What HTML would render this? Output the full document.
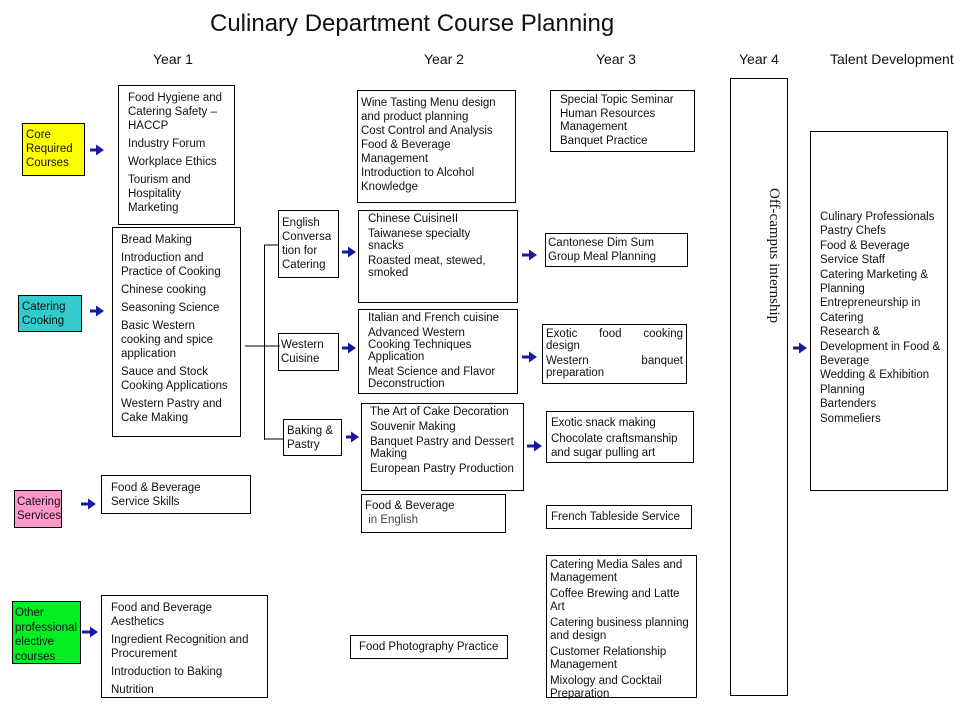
<!DOCTYPE html>
<html><head><meta charset="utf-8">
<style>
*{margin:0;padding:0;box-sizing:border-box}
body{width:960px;height:720px;background:#fff;position:relative;overflow:hidden;font-family:"Liberation Sans",Arial,sans-serif;color:#111;font-size:11.5px}
.b{position:absolute;border:1px solid #000;background:#fff;line-height:14px;white-space:nowrap}
.b p{margin-bottom:4px}
.t{position:absolute;white-space:nowrap}
.h{position:absolute;font-size:14px;white-space:nowrap}
svg{position:absolute;left:0;top:0}
</style></head><body>
<div class="t" style="left:210px;top:10px;font-size:24px">Culinary Department Course Planning</div>
<div class="h" style="left:153px;top:51px">Year 1</div>
<div class="h" style="left:424px;top:51px">Year 2</div>
<div class="h" style="left:596px;top:51px">Year 3</div>
<div class="h" style="left:739px;top:51px">Year 4</div>
<div class="h" style="left:830px;top:51px">Talent Development</div>

<div class="b" style="left:22px;top:123px;width:63px;height:53px;background:#ffff00;padding:4px 3px">Core<br>Required<br>Courses</div>
<div class="b" style="left:118px;top:85px;width:117px;height:140px;padding:5px 9px"><p>Food Hygiene and<br>Catering Safety –<br>HACCP</p><p>Industry Forum</p><p>Workplace Ethics</p><p>Tourism and<br>Hospitality<br>Marketing</p></div>

<div class="b" style="left:18px;top:295px;width:64px;height:37px;background:#33cccc;padding:4px 3px">Catering<br>Cooking</div>
<div class="b" style="left:112px;top:227px;width:129px;height:210px;padding:5px 8px"><p>Bread Making</p><p>Introduction and<br>Practice of Cooking</p><p>Chinese cooking</p><p>Seasoning Science</p><p>Basic Western<br>cooking and spice<br>application</p><p>Sauce and Stock<br>Cooking Applications</p><p>Western Pastry and<br>Cake Making</p></div>

<div class="b" style="left:278px;top:210px;width:61px;height:68px;padding:5px 3px">English<br>Conversa<br>tion for<br>Catering</div>
<div class="b" style="left:278px;top:333px;width:61px;height:38px;padding:4px 2px">Western<br>Cuisine</div>
<div class="b" style="left:283px;top:419px;width:59px;height:37px;padding:4px 3px">Baking &amp;<br>Pastry</div>

<div class="b" style="left:14px;top:490px;width:48px;height:38px;background:#ff99cc;padding:4px 2px">Catering<br>Services</div>
<div class="b" style="left:101px;top:475px;width:150px;height:39px;padding:5px 9px">Food &amp; Beverage<br>Service Skills</div>

<div class="b" style="left:12px;top:601px;width:69px;height:63px;background:#00ee22;padding:4px 2px;line-height:14.5px">Other<br>professional<br>elective<br>courses</div>
<div class="b" style="left:101px;top:595px;width:167px;height:103px;padding:5px 9px"><p>Food and Beverage<br>Aesthetics</p><p>Ingredient Recognition and<br>Procurement</p><p>Introduction to Baking</p><p>Nutrition</p></div>

<div class="b" style="left:357px;top:90px;width:159px;height:113px;padding:5px 3px">Wine Tasting Menu design<br>and product planning<br>Cost Control and Analysis<br>Food &amp; Beverage<br>Management<br>Introduction to Alcohol<br>Knowledge</div>
<div class="b" style="left:358px;top:210px;width:160px;height:93px;padding:2px 9px;line-height:12px"><p style="margin-bottom:3px">Chinese CuisineII</p><p style="margin-bottom:3px">Taiwanese specialty<br>snacks</p><p>Roasted meat, stewed,<br>smoked</p></div>
<div class="b" style="left:358px;top:309px;width:160px;height:85px;padding:2px 9px;line-height:12px"><p style="margin-bottom:3px">Italian and French cuisine</p><p style="margin-bottom:3px">Advanced Western<br>Cooking Techniques<br>Application</p><p>Meat Science and Flavor<br>Deconstruction</p></div>
<div class="b" style="left:361px;top:403px;width:163px;height:88px;padding:2px 8px;line-height:12px"><p style="margin-bottom:3px">The Art of Cake Decoration</p><p style="margin-bottom:3px">Souvenir Making</p><p style="margin-bottom:3px">Banquet Pastry and Dessert<br>Making</p><p>European Pastry Production</p></div>
<div class="b" style="left:361px;top:494px;width:145px;height:39px;padding:4px 3px">Food &amp; Beverage<br><span style="color:#444">&nbsp;in English</span></div>
<div class="b" style="left:350px;top:635px;width:158px;height:24px;padding:4px 8px">Food Photography Practice</div>

<div class="b" style="left:550px;top:90px;width:145px;height:62px;padding:3px 9px;line-height:13px"><p style="margin-bottom:1px">Special Topic Seminar</p><p style="margin-bottom:1px">Human Resources<br>Management</p><p>Banquet Practice</p></div>
<div class="b" style="left:545px;top:233px;width:143px;height:34px;padding:2px 2px;line-height:14px">Cantonese Dim Sum<br>Group Meal Planning</div>
<div class="b" style="left:542px;top:324px;width:145px;height:60px;padding:3px 3px;line-height:12px"><div style="display:flex;justify-content:space-between"><span>Exotic</span><span>food</span><span>cooking</span></div><div style="margin-bottom:3px">design</div><div style="display:flex;justify-content:space-between"><span>Western</span><span>banquet</span></div><div>preparation</div></div>
<div class="b" style="left:546px;top:411px;width:148px;height:52px;padding:4px 4px;line-height:14px"><p style="margin-bottom:2px">Exotic snack making</p><p>Chocolate craftsmanship<br>and sugar pulling art</p></div>
<div class="b" style="left:546px;top:505px;width:146px;height:24px;padding:4px 4px">French Tableside Service</div>
<div class="b" style="left:546px;top:555px;width:151px;height:143px;padding:3px 3px;line-height:13px"><p style="margin-bottom:3px">Catering Media Sales and<br>Management</p><p style="margin-bottom:3px">Coffee Brewing and Latte<br>Art</p><p style="margin-bottom:3px">Catering business planning<br>and design</p><p style="margin-bottom:3px">Customer Relationship<br>Management</p><p>Mixology and Cocktail<br>Preparation</p></div>

<div class="b" style="left:730px;top:78px;width:58px;height:618px"></div>
<div class="t" style="left:764px;top:188px;font-family:'Liberation Serif',serif;font-size:15px;transform-origin:0 0;transform:translate(18px,0) rotate(90deg)">Off-campus internship</div>

<div class="b" style="left:810px;top:131px;width:138px;height:360px;padding:78px 9px 0;line-height:14.4px">Culinary Professionals<br>Pastry Chefs<br>Food &amp; Beverage<br>Service Staff<br>Catering Marketing &amp;<br>Planning<br>Entrepreneurship in<br>Catering<br>Research &amp;<br>Development in Food &amp;<br>Beverage<br>Wedding &amp; Exhibition<br>Planning<br>Bartenders<br>Sommeliers</div>

<svg width="960" height="720">
<defs><marker id="a" markerWidth="8" markerHeight="11" refX="1" refY="5.5" orient="auto" markerUnits="userSpaceOnUse"><path d="M0,0 L8,5.5 L0,11 Z" fill="#1a1aa0"/></marker></defs>
<g stroke="#000" stroke-width="1" fill="none">
<line x1="245" y1="346" x2="280" y2="346"/>
<line x1="264.5" y1="245" x2="264.5" y2="440"/>
<line x1="264" y1="245" x2="278" y2="245"/>
<line x1="264" y1="439" x2="283" y2="439"/>
</g>
<g stroke="#1a1aa0" stroke-width="3" marker-end="url(#a)">
<line x1="90" y1="150" x2="97" y2="150"/>
<line x1="90" y1="311" x2="97" y2="311"/>
<line x1="81" y1="504" x2="89" y2="504"/>
<line x1="82" y1="632" x2="91" y2="632"/>
<line x1="342" y1="252" x2="349" y2="252"/>
<line x1="342" y1="348" x2="349" y2="348"/>
<line x1="346" y1="437" x2="352" y2="437"/>
<line x1="522" y1="255" x2="530" y2="255"/>
<line x1="522" y1="357" x2="530" y2="357"/>
<line x1="527" y1="446" x2="535" y2="446"/>
<line x1="793" y1="348" x2="800" y2="348"/>
</g>
</svg>
</body></html>
